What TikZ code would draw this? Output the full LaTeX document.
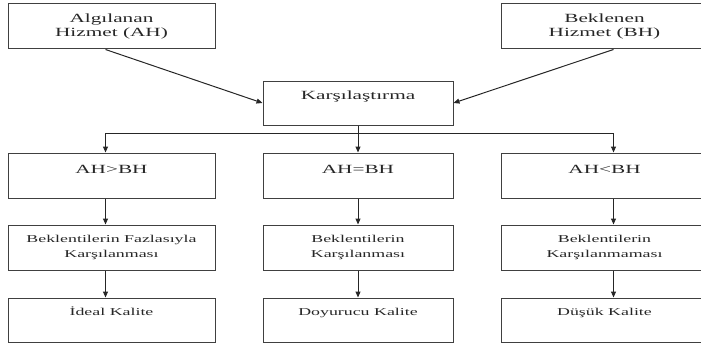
\documentclass[tikz,border=0pt]{standalone}
\usepackage{fontspec}
\setmainfont[FakeStretch=1.7]{Liberation Serif}
\usetikzlibrary{arrows.meta,positioning}

\begin{document}
\begin{tikzpicture}[x=1pt, y=-1pt,
    kutu/.style={draw=black!75, line width=1pt, text=black!85, inner sep=0pt, minimum height=44pt, align=center},
    genis/.style={kutu, minimum width=207pt},
    dar/.style={kutu, minimum width=190pt},
    buyukyazi/.style={font=\fontsize{12.5}{14.5}\selectfont},
    kucukyazi/.style={font=\fontsize{10.5}{15}\selectfont},
    ok/.style={-{Triangle[length=6pt,width=5pt]}, draw=black!85, line width=1pt}]
          \useasboundingbox (0,0) rectangle (701,345);
          \clip (0,0) rectangle (701,345);

          % ust satir
          \node[genis, buyukyazi, minimum height=45pt] (ah) at (111.5,26.5) {Algılanan\\Hizmet (AH)};
          \node[genis, buyukyazi, minimum height=45pt] (bh) at (604.5,26.5) {Beklenen\\Hizmet (BH)};
          \node[dar, buyukyazi, text height=18pt, text depth=26pt] (kars) at (358,103) {Karşılaştırma};

          % sutunlar
          \coordinate (sol) at (105.5,133.5);
          \coordinate (orta) at (358,133.5);
          \coordinate (sag) at (613.5,133.5);

          \node[genis, buyukyazi, text height=20pt, text depth=25pt] (ahbuyuk) at (111.5,175.5) {AH>BH};
          \node[dar, buyukyazi, text height=20pt, text depth=25pt] (ahesit) at (358,175.5) {AH=BH};
          \node[genis, buyukyazi, text height=20pt, text depth=25pt] (ahkucuk) at (604.5,175.5) {AH<BH};

          \node[genis, kucukyazi, minimum height=45pt] (fazla) at (111.5,247.5) {Beklentilerin Fazlasıyla\\Karşılanması};
          \node[dar, kucukyazi, minimum height=45pt] (karsilanma) at (358,247.5) {Beklentilerin\\Karşılanması};
          \node[genis, kucukyazi, minimum height=45pt] (karsilanmama) at (604.5,247.5) {Beklentilerin\\Karşılanmaması};

          \node[genis, kucukyazi, text height=17pt, text depth=27pt] (ideal) at (111.5,320) {İdeal Kalite};
          \node[dar, kucukyazi, text height=17pt, text depth=27pt] (doyurucu) at (358,320) {Doyurucu Kalite};
          \node[genis, kucukyazi, text height=17pt, text depth=27pt] (dusuk) at (604.5,320) {Düşük Kalite};

          % oklar
          \draw[ok] (ah.south -| sol) -- (kars.west);
          \draw[ok] (bh.south -| sag) -- (kars.east);
          \draw[ok] (kars.south) -- (ahesit.north);
          \draw[ok, {Triangle[length=6pt,width=5pt]}-{Triangle[length=6pt,width=5pt]}] (ahbuyuk.north -| sol) |- (orta) -| (ahkucuk.north -| sag);

          \draw[ok] (ahbuyuk.south -| sol) -- (fazla.north -| sol);
          \draw[ok] (ahesit.south) -- (karsilanma.north);
          \draw[ok] (ahkucuk.south -| sag) -- (karsilanmama.north -| sag);

          \draw[ok] (fazla.south -| sol) -- (ideal.north -| sol);
          \draw[ok] (karsilanma.south) -- (doyurucu.north);
          \draw[ok] (karsilanmama.south -| sag) -- (dusuk.north -| sag);
        \end{tikzpicture}
\end{document}
